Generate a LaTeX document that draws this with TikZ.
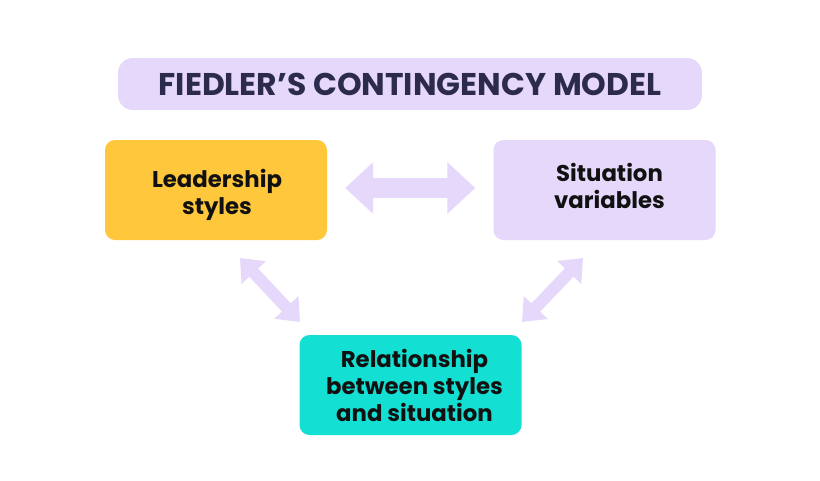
\documentclass[tikz,border=0pt]{standalone}
\usepackage{fontspec}
\setmainfont{Poppins}[BoldFont={* Bold}]
\usetikzlibrary{arrows.meta,calc}
\definecolor{lav}{HTML}{E5D8FB}
\definecolor{yel}{HTML}{FFC83C}
\definecolor{cyn}{HTML}{14DFD3}
\definecolor{navy}{HTML}{2C2B4E}
\definecolor{ink}{HTML}{111111}
\begin{document}
\begin{tikzpicture}[x=1pt,y=-1pt,
  titlebox/.style={fill=lav,rounded corners=15pt,minimum width=584pt,minimum height=52pt,inner sep=0pt,
    font=\bfseries\fontsize{31.4}{34}\selectfont,text=navy},
  box/.style={rounded corners=10pt,minimum width=222pt,minimum height=100pt,inner sep=0pt},
  boxtext/.style={align=center,inner sep=0pt,font=\bfseries\fontsize{22.8}{27}\selectfont,text=ink},
  bigarrow/.style={draw=lav,line width=20pt,{Triangle[length=28pt,width=50pt]}-{Triangle[length=28pt,width=50pt]}},
  smallarrow/.style={draw=lav,line width=12pt,{Triangle[length=20pt,width=32pt]}-{Triangle[length=20pt,width=32pt]}}]
\useasboundingbox (0,0) rectangle (820,480);
\fill[white] (0,0) rectangle (820,480);
\node[titlebox] (title) at (410,84) {FIEDLER’S CONTINGENCY MODEL};
\node[box,fill=yel,label={[boxtext,xshift=1pt,yshift=-5pt]center:Leadership\\styles}] (ls) at (216,190) {};
\node[box,fill=lav,label={[boxtext,xshift=5pt,yshift=4pt]center:Situation\\variables}] (sv) at (604.5,190) {};
\node[box,fill=cyn,label={[boxtext,xshift=4pt,yshift=0pt]center:Relationship\\between styles\\and situation}] (rel) at (410.5,385) {};
\coordinate (a1) at (240,258);
\coordinate (a2) at (300,322);
\coordinate (b1) at (583,258);
\coordinate (b2) at (522,322);
\draw[bigarrow,shorten <=18pt,shorten >=18pt] (ls.east |- 0,188) -- (sv.west |- 0,188);
\draw[smallarrow] (a1) -- (a2);
\draw[smallarrow] (b1) -- (b2);
\end{tikzpicture}
\end{document}
